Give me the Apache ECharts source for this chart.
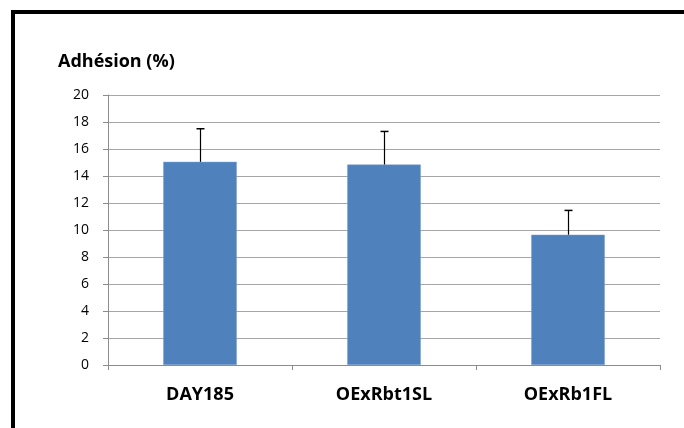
<!DOCTYPE html>
<html>
<head>
<meta charset="utf-8">
<script src="https://cdn.jsdelivr.net/npm/echarts@6/dist/echarts.min.js"></script>
<style>
html,body{margin:0;padding:0;background:#fff;}
#c{width:684px;height:428px;}
</style>
</head>
<body>
<div id="c"></div>
<script>
var categories = ['DAY185', 'OExRbt1SL', 'OExRb1FL'];
var values = [15.05, 14.85, 9.65];
var errors = [2.45, 2.45, 1.8];
var yTicks = {min: 0, max: 20, interval: 2};
var titleText = 'Adhésion (%)';

var FONT = 'Open Sans';
var chart = echarts.init(document.getElementById('c'), null, {renderer: 'canvas'});

var errData = categories.map(function (c, i) { return [i, values[i], values[i] + errors[i]]; });

chart.setOption({
  animation: false,
  backgroundColor: '#ffffff',
  title: {
    text: titleText,
    left: 53,
    top: 48,
    textStyle: {fontFamily: FONT, fontSize: 18, fontWeight: 'bold', color: '#000'}
  },
  grid: {left: 108, right: 24, top: 95, bottom: 63, containLabel: false},
  xAxis: {
    type: 'category',
    data: categories,
    axisLine: {show: true, lineStyle: {color: '#8c8c8c', width: 1}},
    axisTick: {show: true, alignWithLabel: false, length: 5, lineStyle: {color: '#8c8c8c'}},
    axisLabel: {fontFamily: FONT, fontSize: 18, fontWeight: 'bold', color: '#000', margin: 21}
  },
  yAxis: {
    type: 'value',
    min: yTicks.min, max: yTicks.max, interval: yTicks.interval,
    axisLine: {show: true, lineStyle: {color: '#8c8c8c', width: 1}},
    axisTick: {show: true, inside: false, length: 5, lineStyle: {color: '#8c8c8c'}},
    splitLine: {show: true, lineStyle: {color: '#a6a6a6', width: 1}},
    axisLabel: {fontFamily: FONT, fontSize: 14, color: '#000', margin: 19}
  },
  series: [
    {
      type: 'bar',
      data: values,
      barWidth: '40%',
      itemStyle: {color: '#4F81BD', borderColor: '#7EA3D2', borderWidth: 0.5}
    },
    {
      type: 'custom',
      data: errData,
      z: 10,
      renderItem: function (params, api) {
        var x = api.value(0);
        var lo = api.coord([x, api.value(1)]);
        var hi = api.coord([x, api.value(2)]);
        var cx = Math.round(lo[0]) + 0.5;
        return {
          type: 'group',
          children: [
            {type: 'line', shape: {x1: cx, y1: lo[1], x2: cx, y2: hi[1]}, style: {stroke: '#000', lineWidth: 1.2}},
            {type: 'line', shape: {x1: cx - 4, y1: hi[1], x2: cx + 4, y2: hi[1]}, style: {stroke: '#000', lineWidth: 1.5}}
          ]
        };
      }
    }
  ],
  graphic: [
    {type: 'rect', shape: {x: 11, y: 10, width: 673, height: 4}, style: {fill: '#000'}},
    {type: 'rect', shape: {x: 11, y: 10, width: 4, height: 418}, style: {fill: '#000'}}
  ]
});
</script>
</body>
</html>
